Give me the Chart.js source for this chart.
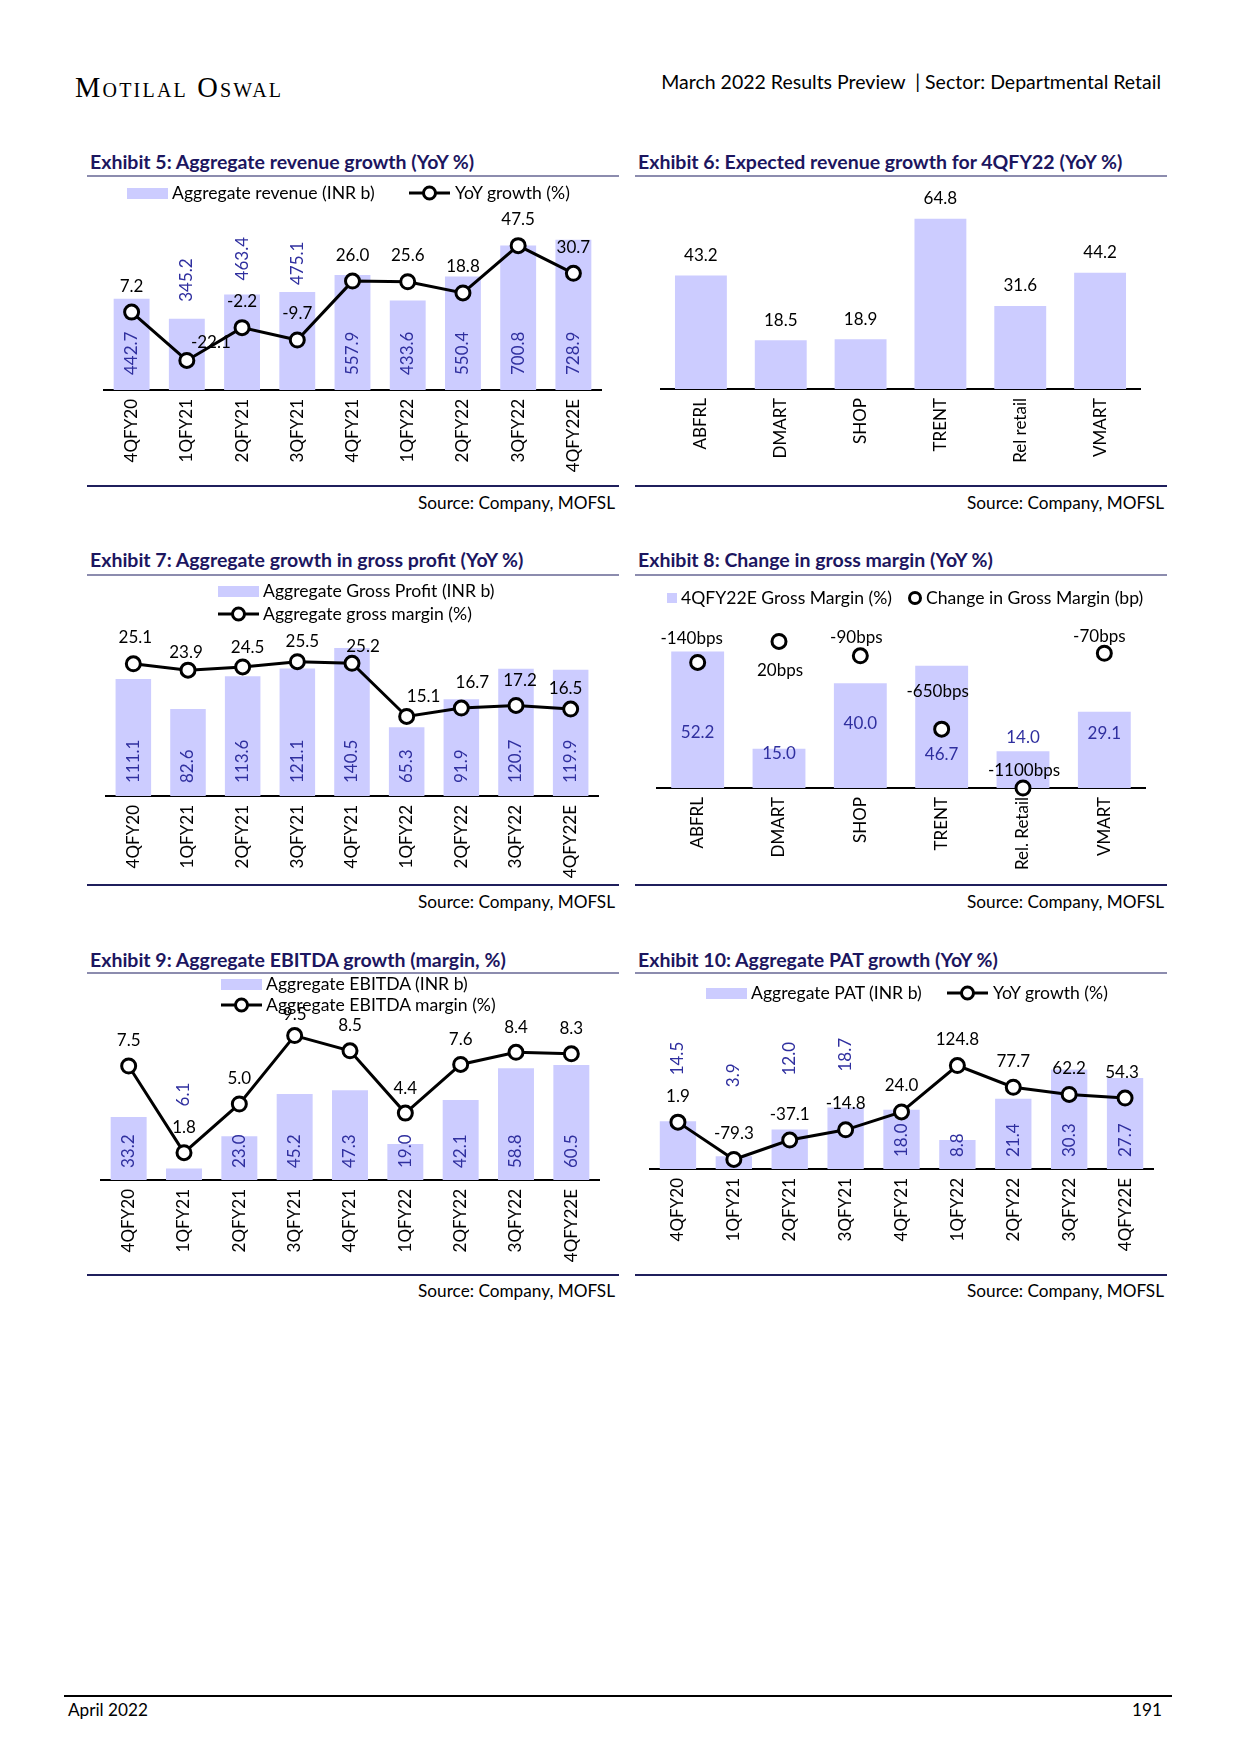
<!DOCTYPE html>
<html>
<head>
<meta charset="utf-8">
<title>Departmental Retail - 4QFY22 preview</title>
<script src="https://cdn.jsdelivr.net/npm/chart.js@4.4.1/dist/chart.umd.min.js"></script>
<style>
  body { margin: 0; background: #fff; font-family: Lato, "Open Sans", sans-serif; color: #000; }
  #page { position: relative; width: 1241px; height: 1755px; overflow: hidden; }
  #page > * { position: absolute; }
  .logo { font-family: "Liberation Serif", serif; font-variant: small-caps; font-size: 28.5px; letter-spacing: 2.2px; line-height: 30px; }
  .hdr { font-size: 19.5px; line-height: 24px; white-space: nowrap; }
  .title { font-weight: bold; font-size: 19.5px; line-height: 22px; color: #1c165f; white-space: nowrap; }
  .uline { height: 2px; background: #8c8cae; }
  .bline { height: 2px; background: #1f1f5c; }
  .src { font-size: 17.2px; line-height: 20px; white-space: nowrap; }
  .leg { font-size: 17.6px; line-height: 20px; white-space: nowrap; display: flex; align-items: center; }
  .box { display: inline-block; width: 41px; height: 11px; background: #ccccff; margin-right: 4px; }
  .sq { display: inline-block; width: 10px; height: 10px; background: #ccccff; margin-right: 4px; }
</style>
</head>
<body>
<div id="page">
  <div class="logo" style="left:75px;top:73px">Motilal Oswal</div>
  <div class="hdr" style="right:80px;top:70px">March 2022 Results Preview &nbsp;| Sector: Departmental Retail</div>

  <div class="title" style="left:90px;top:151px">Exhibit 5: Aggregate revenue growth (YoY %)</div>
  <div class="uline" style="left:87px;width:532px;top:175px"></div>
  <div class="title" style="left:638px;top:151px">Exhibit 6: Expected revenue growth for 4QFY22 (YoY %)</div>
  <div class="uline" style="left:635px;width:532px;top:175px"></div>

  <canvas id="c5" width="550" height="290" style="left:80px;top:185px"></canvas>
  <canvas id="c6" width="530" height="290" style="left:640px;top:185px"></canvas>

  <div class="leg" style="left:127px;top:183px"><span class="box"></span>Aggregate revenue (INR b)</div>
  <div class="leg" style="left:409px;top:183px"><svg width="41" height="16"><line x1="0" y1="8" x2="41" y2="8" stroke="#000" stroke-width="3"/><circle cx="20.5" cy="8" r="6" fill="#fff" stroke="#000" stroke-width="3"/></svg><span style="margin-left:5px">YoY growth (%)</span></div>

  <div class="bline" style="left:87px;width:532px;top:485px"></div>
  <div class="bline" style="left:635px;width:532px;top:485px"></div>
  <div class="src" style="right:626px;top:493px">Source: Company, MOFSL</div>
  <div class="src" style="right:77px;top:493px">Source: Company, MOFSL</div>

  <div class="title" style="left:90px;top:549px">Exhibit 7: Aggregate growth in gross profit (YoY %)</div>
  <div class="uline" style="left:87px;width:532px;top:574px"></div>
  <div class="title" style="left:638px;top:549px">Exhibit 8: Change in gross margin (YoY %)</div>
  <div class="uline" style="left:635px;width:532px;top:574px"></div>

  <canvas id="c7" width="550" height="280" style="left:80px;top:600px"></canvas>
  <canvas id="c8" width="530" height="280" style="left:640px;top:600px"></canvas>

  <div class="leg" style="left:218px;top:581px"><span class="box"></span>Aggregate Gross Profit (INR b)</div>
  <div class="leg" style="left:218px;top:604px"><svg width="41" height="16"><line x1="0" y1="8" x2="41" y2="8" stroke="#000" stroke-width="3"/><circle cx="20.5" cy="8" r="6" fill="#fff" stroke="#000" stroke-width="3"/></svg><span style="margin-left:4px">Aggregate gross margin (%)</span></div>
  <div class="leg" style="left:667px;top:588px"><span class="sq"></span>4QFY22E Gross Margin (%)</div>
  <div class="leg" style="left:907px;top:588px"><svg width="16" height="16"><circle cx="8" cy="8" r="5.5" fill="#fff" stroke="#000" stroke-width="3"/></svg><span style="margin-left:3px">Change in Gross Margin (bp)</span></div>

  <div class="bline" style="left:87px;width:532px;top:884px"></div>
  <div class="bline" style="left:635px;width:532px;top:884px"></div>
  <div class="src" style="right:626px;top:892px">Source: Company, MOFSL</div>
  <div class="src" style="right:77px;top:892px">Source: Company, MOFSL</div>

  <div class="title" style="left:90px;top:949px">Exhibit 9: Aggregate EBITDA growth (margin, %)</div>
  <div class="uline" style="left:87px;width:532px;top:972px"></div>
  <div class="title" style="left:638px;top:949px">Exhibit 10: Aggregate PAT growth (YoY %)</div>
  <div class="uline" style="left:635px;width:532px;top:972px"></div>

  <canvas id="c9" width="550" height="280" style="left:80px;top:990px"></canvas>
  <canvas id="c10" width="530" height="270" style="left:640px;top:1000px"></canvas>

  <div class="leg" style="left:221px;top:974px"><span class="box"></span>Aggregate EBITDA (INR b)</div>
  <div class="leg" style="left:221px;top:995px"><svg width="41" height="16"><line x1="0" y1="8" x2="41" y2="8" stroke="#000" stroke-width="3"/><circle cx="20.5" cy="8" r="6" fill="#fff" stroke="#000" stroke-width="3"/></svg><span style="margin-left:4px">Aggregate EBITDA margin (%)</span></div>
  <div class="leg" style="left:706px;top:983px"><span class="box"></span>Aggregate PAT (INR b)</div>
  <div class="leg" style="left:947px;top:983px"><svg width="41" height="16"><line x1="0" y1="8" x2="41" y2="8" stroke="#000" stroke-width="3"/><circle cx="20.5" cy="8" r="6" fill="#fff" stroke="#000" stroke-width="3"/></svg><span style="margin-left:5px">YoY growth (%)</span></div>

  <div class="bline" style="left:87px;width:532px;top:1274px"></div>
  <div class="bline" style="left:635px;width:532px;top:1274px"></div>
  <div class="src" style="right:626px;top:1281px">Source: Company, MOFSL</div>
  <div class="src" style="right:77px;top:1281px">Source: Company, MOFSL</div>

  <div style="left:64px;width:1108px;top:1695px;height:2px;background:#000"></div>
  <div class="src" style="left:68px;top:1700px">April 2022</div>
  <div class="src" style="right:79px;top:1700px">191</div>
</div>

<script>
var quarters = ['4QFY20', '1QFY21', '2QFY21', '3QFY21', '4QFY21', '1QFY22', '2QFY22', '3QFY22', '4QFY22E'];
var revenue = [442.7, 345.2, 463.4, 475.1, 557.9, 433.6, 550.4, 700.8, 728.9];
var revenueYoY = [7.2, -22.1, -2.2, -9.7, 26.0, 25.6, 18.8, 47.5, 30.7];

var companies6 = ['ABFRL', 'DMART', 'SHOP', 'TRENT', 'Rel retail', 'VMART'];
var revGrowth4Q = [43.2, 18.5, 18.9, 64.8, 31.6, 44.2];

var grossProfit = [111.1, 82.6, 113.6, 121.1, 140.5, 65.3, 91.9, 120.7, 119.9];
var grossMargin = [25.1, 23.9, 24.5, 25.5, 25.2, 15.1, 16.7, 17.2, 16.5];

var companies8 = ['ABFRL', 'DMART', 'SHOP', 'TRENT', 'Rel. Retail', 'VMART'];
var gmPct4Q = [52.2, 15.0, 40.0, 46.7, 14.0, 29.1];
var gmChangeBp = [-140, 20, -90, -650, -1100, -70];

var ebitda = [33.2, 6.1, 23.0, 45.2, 47.3, 19.0, 42.1, 58.8, 60.5];
var ebitdaMargin = [7.5, 1.8, 5.0, 9.5, 8.5, 4.4, 7.6, 8.4, 8.3];

var pat = [14.5, 3.9, 12.0, 18.7, 18.0, 8.8, 21.4, 30.3, 27.7];
var patYoY = [1.9, -79.3, -37.1, -14.8, 24.0, 124.8, 77.7, 62.2, 54.3];

var BAR = '#ccccff';
var BLUE = '#2f2f9f';
var FONT = '17px Lato';

// draws the data labels; where each label sits is set per chart below
var valueLabels = {
    id: 'valueLabels',
    afterDatasetsDraw: function (chart, args, opts) {
        var ctx = chart.ctx;
        (opts.sets || []).forEach(function (s) {
            var meta = chart.getDatasetMeta(s.dataset);
            var values = chart.data.datasets[s.dataset].data;
            meta.data.forEach(function (el, i) {
                var text = s.format ? s.format(values[i]) : values[i].toFixed(1);
                var mode = Array.isArray(s.mode) ? s.mode[i] : s.mode;
                var dx = s.dx ? s.dx[i] : 0;
                var dy = s.dy ? s.dy[i] : 0;
                var gap = mode === 'end' ? (s.endGap || s.gap) : s.gap;
                ctx.save();
                ctx.font = FONT;
                ctx.fillStyle = s.color;
                ctx.textAlign = 'center';
                ctx.textBaseline = 'middle';
                var w = ctx.measureText(text).width;
                var y;
                if (s.vertical) {
                    y = (mode === 'base' ? el.base : el.y) - gap - w / 2;
                    ctx.translate(el.x + dx, y + dy);
                    ctx.rotate(-Math.PI / 2);
                    ctx.fillText(text, 0, 0);
                } else {
                    if (mode === 'base') y = el.base - s.rise[i];
                    else y = el.y - gap;
                    ctx.fillText(text, el.x + dx, y + dy);
                }
                ctx.restore();
            });
        });
    }
};

function barSet(values) {
    return { type: 'bar', data: values, backgroundColor: BAR, borderWidth: 0,
        barPercentage: 0.65, categoryPercentage: 1, yAxisID: 'y', order: 2 };
}

function lineSet(values, showLine) {
    return { type: 'line', data: values, borderColor: '#000', borderWidth: 3,
        pointRadius: 7, pointBorderWidth: 3, pointBackgroundColor: '#fff', pointBorderColor: '#000',
        showLine: showLine, yAxisID: 'y1', order: 1, clip: false };
}

function makeChart(id, pad, xHeight, labels, datasets, yRange, y1Range, sets) {
    var scales = {
        x: {
            grid: { display: false, drawTicks: false },
            border: { display: true, color: '#000', width: 2 },
            ticks: { color: '#000', font: { family: 'Lato', size: 17 }, minRotation: 90, maxRotation: 90,
                padding: 9, autoSkip: false },
            afterFit: function (scale) { scale.height = xHeight; }
        },
        y: { display: false, min: yRange[0], max: yRange[1] }
    };
    if (y1Range) scales.y1 = { display: false, min: y1Range[0], max: y1Range[1] };
    return new Chart(document.getElementById(id), {
        type: 'bar',
        data: { labels: labels, datasets: datasets },
        options: {
            responsive: false,
            animation: false,
            layout: { padding: { top: pad[0], right: pad[1], bottom: 0, left: pad[2] } },
            plugins: { legend: { display: false }, tooltip: { enabled: false }, valueLabels: { sets: sets } },
            scales: scales
        },
        plugins: [valueLabels]
    });
}

// Exhibit 5
makeChart('c5', [40, 29, 24], 85, quarters, [barSet(revenue), lineSet(revenueYoY, true)], [0, 800], [-40, 60], [
    { dataset: 0, vertical: true, color: BLUE, gap: 15, endGap: 12,
      mode: ['base', 'end', 'end', 'end', 'base', 'base', 'base', 'base', 'base'],
      dy: [0, -5, -2, 5, 0, 0, 0, 0, 0] },
    { dataset: 1, color: '#000', mode: 'above', gap: 26,
      dx: [0, 24, 0, 0, 0, 0, 0, 0, 0], dy: [0, 8, 0, 0, 0, 0, 0, 0, 0] }
]);

// Exhibit 6
makeChart('c6', [20, 30, 21], 86, companies6, [barSet(revGrowth4Q)], [0, 70], null, [
    { dataset: 0, color: '#000', mode: 'above', gap: 20 }
]);

// Exhibit 7
makeChart('c7', [38, 32, 26], 84, quarters, [barSet(grossProfit), lineSet(grossMargin, true)], [0, 150], [0, 30], [
    { dataset: 0, vertical: true, color: BLUE, mode: 'base', gap: 13 },
    { dataset: 1, color: '#000', mode: 'above', gap: 0,
      dx: [2, -2, 5, 5, 11, 17, 11, 4, -5], dy: [-26, -18, -19, -20, -17, -20, -26, -25, -21] }
]);

// Exhibit 8
makeChart('c8', [31, 25, 17], 92, companies8, [barSet(gmPct4Q), lineSet(gmChangeBp, false)], [0, 60], [-1100, 100], [
    { dataset: 0, color: BLUE, mode: 'base', rise: [55, 34, 64, 33, 50, 54] },
    { dataset: 1, color: '#000', mode: 'above', gap: 0,
      format: function (v) { return v + 'bps'; },
      dx: [-6, 1, -4, -4, 1, -5], dy: [-24, 29, -18, -38, -17, -17] }
]);

// Exhibit 9
makeChart('c9', [38, 31, 21], 90, quarters, [barSet(ebitda), lineSet(ebitdaMargin, true)], [0, 80], [0, 10], [
    { dataset: 0, vertical: true, color: BLUE, gap: 12, endGap: 12,
      mode: ['base', 'end', 'base', 'base', 'base', 'base', 'base', 'base', 'base'],
      dy: [0, -50, 0, 0, 0, 0, 0, 0, 0] },
    { dataset: 1, color: '#000', mode: 'above', gap: 25,
      dy: [0, 0, 0, 4, 0, 0, 0, 0, 0] }
]);

// Exhibit 10
makeChart('c10', [54, 17, 10], 101, quarters, [barSet(pat), lineSet(patYoY, true)], [0, 35], [-100, 150], [
    { dataset: 0, vertical: true, color: BLUE, gap: 12, endGap: 12,
      mode: ['end', 'end', 'end', 'end', 'base', 'base', 'base', 'base', 'base'],
      dy: [-34, -57, -42, -24, 0, 0, 0, 0, 0] },
    { dataset: 1, color: '#000', mode: 'above', gap: 26,
      dx: [0, 0, 0, 0, 0, 0, 0, 0, -3] }
]);
</script>
</body>
</html>
